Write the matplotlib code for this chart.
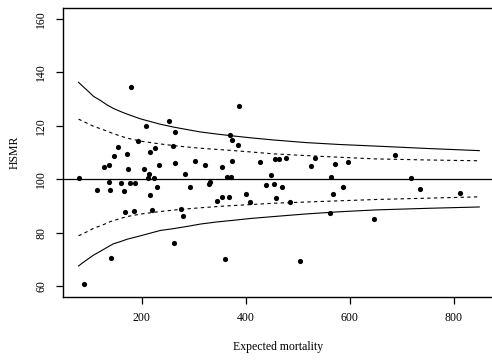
import matplotlib
matplotlib.use("Agg")
import matplotlib.pyplot as plt

# observed points (expected mortality, HSMR)
expected = [79.4, 89, 114.7, 128.7, 137.7, 138.3, 138.9, 140.8, 146.5, 154.2,
            159.9, 166.5, 168.4, 172.2, 174.1, 177.2, 180.4, 184.9, 187.5, 193.9,
            204, 208.6, 211.7, 214.4, 216.9, 216.9, 220.1, 224.5, 225.9, 229,
            232.8, 252, 259.6, 262.3, 263.5, 264.2, 275, 278.8, 284, 293.5,
            303.7, 322.3, 330.5, 332.5, 344.7, 354.9, 355.5, 360.6, 365, 368.9,
            370.2, 372.1, 374.6, 374.6, 385, 386.9, 401.5, 409.1, 427.1, 439.2,
            448.2, 455.1, 455.9, 458.4, 464, 469.9, 478, 485.2, 505, 524.9,
            533.7, 562.5, 564.4, 568.2, 570.9, 586.2, 597, 646.2, 686.5, 717.7,
            735, 812.4]
hsmr = [100.4, 60.9, 96.0, 104.4, 105.4, 98.9, 96.0, 70.4, 108.6, 111.9,
        98.4, 95.5, 87.9, 109.5, 104.0, 98.5, 134.5, 88.1, 98.6, 114.3,
        103.8, 119.9, 100.4, 101.8, 110.2, 94.0, 88.5, 100.5, 111.7, 97.1,
        105.3, 121.9, 112.5, 76.0, 117.6, 106.1, 88.8, 86.1, 101.8, 97.1,
        107.0, 105.3, 98.2, 99.1, 92.0, 93.5, 104.6, 70.1, 100.8, 93.5,
        116.6, 100.8, 114.7, 106.9, 112.7, 127.5, 94.6, 91.4, 106.5, 97.9,
        101.7, 98.2, 107.7, 93.1, 107.5, 97.1, 108.0, 91.4, 69.4, 105.0,
        108.1, 87.5, 100.8, 94.6, 105.7, 97.2, 106.5, 85.0, 109.0, 100.6,
        96.3, 95.0]

# control limits
lim_x = [79, 87, 95, 108, 121, 134, 146, 159, 172, 198, 236, 262, 290, 313,
         345, 376, 410, 453, 517, 580, 650, 750, 849]
upper_3 = [136.3, 134.8, 133.4, 131.0, 129.5, 127.8, 126.5, 125.4, 124.4, 122.6,
           120.6, 119.5, 118.5, 117.7, 116.9, 116.2, 115.5, 114.7, 113.7, 113.0,
           112.4, 111.5, 110.7]
lower_3 = [67.5, 68.7, 69.8, 71.6, 73.0, 74.5, 75.8, 76.6, 77.5, 78.8,
           80.8, 81.5, 82.4, 83.2, 84.0, 84.6, 85.3, 86.0, 87.0, 87.8,
           88.5, 89.1, 89.6]
dash_x = [79, 95, 108, 127, 140, 156, 172, 200, 236, 270, 313, 364, 410, 453,
          550, 650, 750, 849]
upper_2 = [122.5, 121.0, 119.8, 118.5, 117.5, 116.4, 115.4, 114.2, 113.2, 112.4,
           111.6, 110.9, 110.2, 109.5, 108.5, 107.6, 107.2, 106.9]
lower_2 = [78.8, 80.3, 81.6, 83.0, 84.1, 85.1, 86.0, 87.0, 87.9, 88.6,
           89.3, 90.0, 90.5, 91.0, 91.7, 92.4, 92.9, 93.4]

plt.rcParams["font.family"] = ["Liberation Serif", "DejaVu Serif"]
plt.rcParams["font.size"] = 8.5

W, H = 492, 361
fig = plt.figure(figsize=(W / 100, H / 100), dpi=100)
ax = fig.add_axes([62.7 / W, 1 - 296.7 / H, (502 - 62.7) / W, 288.4 / H])

ax.axhline(100, color="black", lw=0.9)
ax.plot(lim_x, upper_3, color="black", lw=0.8)
ax.plot(lim_x, lower_3, color="black", lw=0.8)
ax.plot(dash_x, upper_2, color="black", lw=0.8, ls=(0, (3, 3)))
ax.plot(dash_x, lower_2, color="black", lw=0.8, ls=(0, (3, 3)))
ax.scatter(expected, hsmr, s=14, color="black", zorder=3, linewidths=0)

ax.set_xlim(48.6, 892.6)
ax.set_ylim(56, 164)
ax.set_xticks([200, 400, 600, 800])
ax.set_yticks([60, 80, 100, 120, 140, 160])
ax.tick_params(direction="out", length=5, width=0.9, color="black")
ax.tick_params(axis="x", pad=6)
ax.tick_params(axis="y", pad=6, labelrotation=90)
for lab in ax.get_yticklabels():
    lab.set_va("center")
for sp in ax.spines.values():
    sp.set_linewidth(1.0)

fig.text(278 / W, 1 - 346.7 / H, "Expected mortality", ha="center", va="center")
fig.text(15 / W, 1 - 152.5 / H, "HSMR", ha="center", va="center", rotation=90)

fig.savefig("out.png", dpi=100)
